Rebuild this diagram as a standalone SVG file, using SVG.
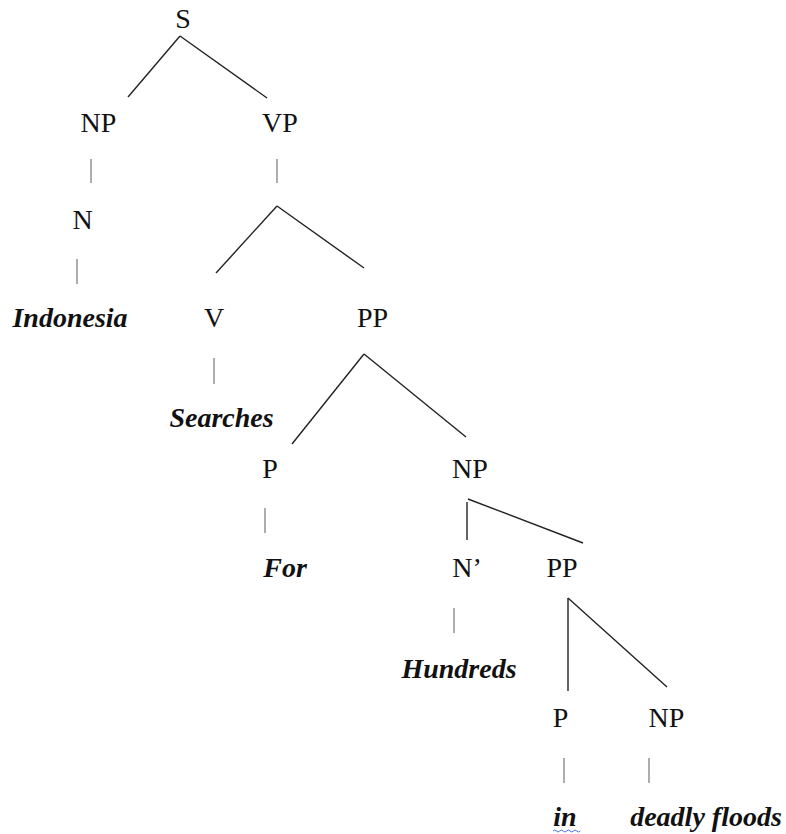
<svg xmlns="http://www.w3.org/2000/svg" width="786" height="834" viewBox="0 0 786 834">
<style>
text{font-size:28px;fill:#111;text-anchor:middle}
.w{font-weight:bold;font-style:italic}
.e{stroke:#222;stroke-width:1.4;fill:none}
.b{stroke:#999;stroke-width:1.6;fill:none}
</style>
<rect width="786" height="834" fill="#fff"/>
<g id="connectors">
<line class="e" x1="180" y1="36" x2="128" y2="97"/>
<line class="e" x1="180" y1="36" x2="267" y2="98"/>
<line class="b" x1="91" y1="159" x2="91" y2="183"/>
<line class="b" x1="277" y1="159" x2="277" y2="183"/>
<line class="b" x1="77" y1="259" x2="77" y2="284"/>
<line class="e" x1="277" y1="206" x2="216" y2="273"/>
<line class="e" x1="277" y1="206" x2="364" y2="268"/>
<line class="b" x1="214" y1="358" x2="214" y2="384"/>
<line class="e" x1="364" y1="354" x2="292" y2="444"/>
<line class="e" x1="364" y1="354" x2="466" y2="437"/>
<line class="b" x1="265" y1="508" x2="265" y2="533"/>
<line class="e" x1="467" y1="502" x2="467" y2="540"/>
<line class="e" x1="468" y1="499" x2="583" y2="543"/>
<line class="b" x1="454" y1="608" x2="454" y2="633"/>
<line class="e" x1="568" y1="598" x2="568" y2="691"/>
<line class="e" x1="568" y1="598" x2="667" y2="687"/>
<line class="b" x1="564" y1="758" x2="564" y2="783"/>
<line class="b" x1="649" y1="758" x2="649" y2="783"/>
</g>
<g font-family="Liberation Serif, serif">
<g id="S"><text x="183" y="28">S</text></g>
<g id="NP1"><text x="98.5" y="132">NP</text></g>
<g id="VP"><text x="280" y="132">VP</text></g>
<g id="N1"><text x="82.5" y="229">N</text></g>
<g id="Indonesia"><text class="w" x="70" y="327">Indonesia</text></g>
<g id="V"><text x="214" y="327">V</text></g>
<g id="PP1"><text x="372.5" y="327">PP</text></g>
<g id="Searches"><text class="w" x="221.5" y="427">Searches</text></g>
<g id="P1"><text x="270" y="478">P</text></g>
<g id="NP2"><text x="470" y="478">NP</text></g>
<g id="For"><text class="w" x="285" y="577">For</text></g>
<g id="Nbar"><text x="467" y="577">N’</text></g>
<g id="PP2"><text x="562" y="577">PP</text></g>
<g id="Hundreds"><text class="w" x="459" y="678">Hundreds</text></g>
<g id="P2"><text x="560.5" y="727">P</text></g>
<g id="NP3"><text x="666.5" y="727">NP</text></g>
<g id="in"><text class="w" x="565" y="826">in</text>
<path d="M553 831 q1.7 -2 3.4 0 t3.4 0 t3.4 0 t3.4 0 t3.4 0 t3.4 0 t3.4 0 t3.4 0" stroke="#4a6ee0" stroke-width="1" fill="none"/></g>
<g id="deadlyfloods"><text class="w" x="706" y="826">deadly floods</text></g>
</g>
</svg>
